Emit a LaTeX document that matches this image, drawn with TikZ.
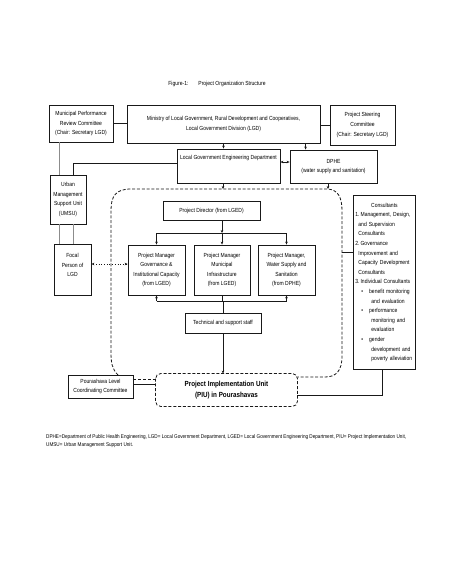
\documentclass[tikz,border=0pt]{standalone}
\usepackage{fontspec}
\setmainfont{Liberation Sans}[FakeStretch=0.85]
\usetikzlibrary{arrows.meta,calc}
\newcommand\fsm{\fontsize{5.9}{9.6}\selectfont}
\newcommand\fbig{\fontsize{7.4}{11}\selectfont\bfseries}
\begin{document}
\begin{tikzpicture}[x=1pt,y=-1pt,
  box/.style={draw=black!90, line width=0.85pt, align=center, inner sep=1pt, font=\fsm},
  ln/.style={draw=black!90, line width=0.7pt},
  gln/.style={draw=black!45, line width=0.5pt},
  arr/.style={ln, -{Stealth[length=3pt,width=2.6pt]}},
  darr/.style={ln, {Stealth[length=3pt,width=2.6pt]}-{Stealth[length=3pt,width=2.6pt]}},
  dsh/.style={draw=black!90, line width=0.8pt, dash pattern=on 3pt off 1.8pt}
]
\fill[white] (0,0) rectangle (454,567);
\useasboundingbox (0,0) rectangle (454,567);

\node[font=\fontsize{5.9}{7}\selectfont] (title) at (217,84) {Figure-1:\hspace{10pt}Project Organization Structure};

\node[box, minimum width=64, minimum height=37] (mprc) at (81,123.5) {Municipal Performance\\Review Committee\\(Chair: Secretary LGD)};
\node[box, minimum width=193, minimum height=38] (ministry) at (223.5,124) {Ministry of Local Government, Rural Development and Cooperatives,\\Local Government Division (LGD)};
\node[box, minimum width=65, minimum height=40] (steer) at (362.5,125) {Project Steering\\Committee\\(Chair: Secretary LGD)};
\node[box, minimum width=103, minimum height=34, text depth=18pt] (lged) at (228.5,166) {Local Government Engineering Department};
\node[box, minimum width=87, minimum height=33] (dphe) at (333.5,166.5) {DPHE\\(water supply and sanitation)};
\node[box, minimum width=36, minimum height=49] (umsu) at (68,199.5) {Urban\\Management\\Support Unit\\(UMSU)};
\node[box, minimum width=37, minimum height=51, text depth=9pt] (focal) at (72.5,269.5) {Focal\\Person of\\LGD};
\node[box, minimum width=97, minimum height=19] (pd) at (211.5,210.5) {Project Director (from LGED)};
\node[box, minimum width=57, minimum height=50] (gov) at (156.5,270) {Project Manager\\Governance \&\\Institutional Capacity\\(from LGED)};
\node[box, minimum width=56, minimum height=50] (infra) at (222,270) {Project Manager\\Municipal\\Infrastructure\\(from LGED)};
\node[box, minimum width=57, minimum height=50] (water) at (286.5,270) {Project Manager,\\Water Supply and\\Sanitation\\(from DPHE)};
\node[box, minimum width=76, minimum height=20] (tech) at (223,323) {Technical and support staff};
\node[box, draw=none, minimum width=141, minimum height=32, font=\fbig] (piu) at (226.5,390) {Project Implementation Unit\\(PIU) in Pourashavas};
\draw[dsh, rounded corners=5pt] (piu.north west) rectangle (piu.south east);
\node[box, minimum width=65, minimum height=23] (pour) at (100.5,386.5) {Pourashava Level\\Coordinating Committee};
\node[box, anchor=north west, minimum width=62, minimum height=174, text width=58, align=left, inner sep=2pt] (cons) at (353,195) {%
\makebox[58pt]{Consultants}\\
1.\,Management, Design,\\
\hspace*{3pt}and Supervision\\
\hspace*{3pt}Consultants\\
2.\,Governance\\
\hspace*{3pt}Improvement and\\
\hspace*{3pt}Capacity Development\\
\hspace*{3pt}Consultants\\
3.\,Individual Consultants\\
\hspace*{6pt}\textbullet\hspace{6pt}benefit monitoring\\
\hspace*{16pt}and evaluation\\
\hspace*{6pt}\textbullet\hspace{6pt}performance\\
\hspace*{16pt}monitoring and\\
\hspace*{16pt}evaluation\\
\hspace*{6pt}\textbullet\hspace{6pt}gender\\
\hspace*{16pt}development and\\
\hspace*{16pt}poverty alleviation};

\node[anchor=north west, align=left, inner sep=0, font=\fontsize{5.45}{8}\selectfont] (foot) at (46,434) {DPHE=Department of Public Health Engineering, LGD= Local Government Department, LGED= Local Government Engineering Department, PIU= Project Implementation Unit,\\UMSU= Urban Management Support Unit.};

% top connectors
\draw[ln] (mprc.east) -- (mprc.east -| ministry.west);
\draw[ln] (ministry.east |- steer.west) -- (steer.west);
\draw[arr] (ministry.south) -- (ministry.south |- lged.north);
\draw[arr] ([xshift=16pt]dphe.north west |- ministry.south) -- ([xshift=16pt]dphe.north west);
\draw[darr] ([yshift=4pt]lged.east) -- ([yshift=4pt]lged.east -| dphe.west);
\draw[ln] ([yshift=3pt]lged.west) -| ([xshift=5pt]umsu.north);
\draw[gln] ([xshift=-9pt]umsu.north) -- ([xshift=-9pt]umsu.north |- mprc.south);
\draw[gln] ([xshift=-9pt]umsu.south) -- ([xshift=-9pt]umsu.south |- focal.north);
\draw[gln] ([xshift=5pt]umsu.south) -- ([xshift=5pt]umsu.south |- focal.north);
\draw[ln, dotted, line width=0.9pt, {Stealth[length=3pt,width=2.6pt]}-{Stealth[length=3pt,width=2.6pt]}] ([yshift=5.5pt]focal.east) -- ([yshift=5.5pt]focal.east -| gov.west);

% enclosure
\coordinate (topL) at (223,189);
\coordinate (topR) at (328,189);
\coordinate (encR) at (342,252);
\coordinate (pourtop) at (118,375);
\draw[arr] ([xshift=-5.5pt]lged.south) -- (topL);
\draw[arr] ([xshift=-5.5pt]dphe.south) -- (topR);
\draw[dsh] (pourtop) .. controls (112,369) and (111,363) .. (111,352) -- (111,210)
  .. controls (111,196) and (116,189) .. (131,189) -- (topR)
  .. controls (338,190) and (342,197) .. (342,211) -- (342,356)
  .. controls (342,371) and (336,377) .. (325,377) -- (piu.east |- 0,377);
\draw[ln] (encR) -- (encR -| cons.west);

% inner structure
\coordinate (bt) at (0,233);
\coordinate (bb) at (0,301);
\draw[arr] (pd.south -| infra.north) -- (infra.north |- bt);
\draw[ln] (gov.north |- bt) -- (water.north |- bt);
\draw[arr] (gov.north |- bt) -- (gov.north);
\draw[arr] (infra.north |- bt) -- (infra.north);
\draw[arr] (water.north |- bt) -- (water.north);
\draw[ln] (gov.south |- bb) -- (water.south |- bb);
\draw[arr] (gov.south |- bb) -- (gov.south);
\draw[arr] (water.south |- bb) -- (water.south);
\draw[ln] (infra.south) -- (infra.south |- bb);
\draw[ln] (tech.north |- bb) -- (tech.north);
\draw[arr] (tech.south) -- (tech.south |- piu.north);

% bottom
\draw[dsh] ([yshift=7.5pt]pour.east) -- ([yshift=7.5pt]pour.east -| piu.west);
\draw[ln] ([yshift=2.5pt]pour.east) -- ([yshift=2.5pt]pour.east -| piu.west);
\draw[ln] ([yshift=-5pt]piu.east) -| ([xshift=-2pt]cons.south);
\end{tikzpicture}
\end{document}
